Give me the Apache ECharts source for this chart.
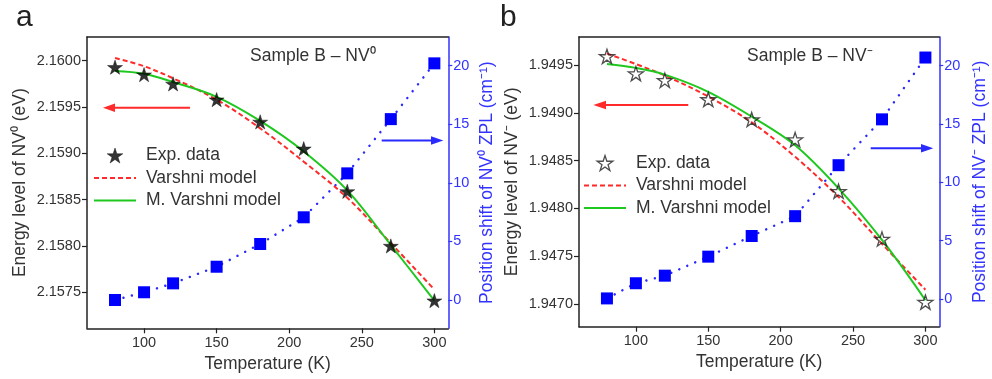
<!DOCTYPE html>
<html><head><meta charset="utf-8">
<script src="https://cdn.jsdelivr.net/npm/echarts@6/dist/echarts.min.js"></script>
<style>html,body{margin:0;padding:0;background:#fff}#c{width:992px;height:379px}</style>
</head><body><div id="c"></div>
<script>
// ---------- data ----------
const temperatures = [80, 100, 120, 150, 180, 210, 240, 270, 300];
const xTickValues = [100, 150, 200, 250, 300];
const shiftTickValues = [0, 5, 10, 15, 20];

// Panel a : Sample B – NV0
const expA = [2.15993, 2.15985, 2.15975, 2.15958, 2.15934, 2.15905, 2.15859, 2.15800, 2.15741];
const varshniA = [2.16003, 2.15994, 2.15981, 2.15958, 2.15927, 2.15891, 2.15852, 2.15803, 2.15753];
const mVarshniA = [2.15989, 2.15986, 2.15977, 2.15961, 2.15935, 2.15902, 2.15860, 2.15801, 2.15741];
const shiftA = [0, 0.66, 1.42, 2.84, 4.78, 7.06, 10.81, 15.44, 20.2];
const energyTicksA = [2.1575, 2.1580, 2.1585, 2.1590, 2.1595, 2.1600];

// Panel b : Sample B – NV-
const expB = [1.94959, 1.94941, 1.94934, 1.94914, 1.94893, 1.94872, 1.94818, 1.94768, 1.94702];
const varshniB = [1.94962, 1.94951, 1.94939, 1.94917, 1.94890, 1.94854, 1.94812, 1.94763, 1.94715];
const mVarshniB = [1.94951, 1.94947, 1.94940, 1.94922, 1.94896, 1.94866, 1.94821, 1.94767, 1.94704];
const shiftB = [0.05, 1.35, 2.0, 3.63, 5.4, 7.1, 11.47, 15.4, 20.7];
const energyTicksB = [1.9470, 1.9475, 1.9480, 1.9485, 1.9490, 1.9495];

const legendNames = ['Exp. data', 'Varshni model', 'M. Varshni model'];

// ---------- styling ----------
const FONT = "'Liberation Sans', Arial, Helvetica, sans-serif";
const TXT = '#333';
const AX = '#222';
const BLUE_AX = '#3333ff';
const BLUE = '#0000ff';
const RED = '#ff2a2a';
const GREEN = '#1ec81e';
const STAR = 'path://M0,-1L0.2245,-0.309L0.9511,-0.309L0.3633,0.118L0.5878,0.809L0,0.382L-0.5878,0.809L-0.3633,0.118L-0.9511,-0.309L-0.2245,-0.309Z';

const zip = (xs, ys) => xs.map((x, i) => [x, ys[i]]);

function bottomX(grid) {
  return {
    type: 'value', gridIndex: grid, position: 'bottom', min: 60.7, max: 309.6,
    name: 'Temperature (K)', nameLocation: 'middle', nameGap: 21,
    nameTextStyle: { fontSize: 17.5, color: TXT, fontFamily: FONT },
    axisLine: { onZero: false, lineStyle: { color: AX, width: 1.5 } },
    axisTick: { inside: false, length: 5, customValues: xTickValues, lineStyle: { color: AX, width: 1.2 } },
    axisLabel: { customValues: xTickValues, fontSize: 14.5, color: TXT, fontFamily: FONT, margin: 7 },
    splitLine: { show: false }
  };
}
function topX(grid) {
  return {
    type: 'value', gridIndex: grid, position: 'top', min: 60.7, max: 309.6,
    axisLine: { onZero: false, lineStyle: { color: AX, width: 1.5 } },
    axisTick: { show: false }, axisLabel: { show: false }, splitLine: { show: false }
  };
}
function leftY(grid, min, max, ticks, title) {
  return {
    type: 'value', gridIndex: grid, position: 'left', min: min, max: max,
    name: title, nameLocation: 'middle', nameGap: 58, nameRotate: 90,
    nameTextStyle: { fontSize: 17.5, color: TXT, fontFamily: FONT },
    axisLine: { show: true, onZero: false, lineStyle: { color: AX, width: 1.5 } },
    axisTick: { show: true, length: 5, customValues: ticks, lineStyle: { color: AX, width: 1.2 } },
    axisLabel: { customValues: ticks, formatter: v => Number(v).toFixed(4), fontSize: 14.5, color: TXT, fontFamily: FONT, margin: 6 },
    splitLine: { show: false }
  };
}
function rightY(grid, min, max, title, gap) {
  return {
    type: 'value', gridIndex: grid, position: 'right', min: min, max: max,
    name: title, nameLocation: 'middle', nameGap: gap, nameRotate: 90,
    nameTextStyle: { fontSize: 17.5, color: BLUE_AX, fontFamily: FONT },
    axisLine: { show: true, onZero: false, lineStyle: { color: BLUE_AX, width: 1.5 } },
    axisTick: { show: true, length: 4, customValues: shiftTickValues, lineStyle: { color: BLUE_AX, width: 1.2 } },
    axisLabel: { customValues: shiftTickValues, fontSize: 14.5, color: BLUE_AX, fontFamily: FONT, margin: 5 },
    splitLine: { show: false }
  };
}
const hollowStyle = { color: 'rgba(255,255,255,0)', borderColor: '#222', borderWidth: 1.3 };
const filledStyle = { color: '#000', borderColor: '#000', borderWidth: 0.5 };
function panelSeries(xi, yl, yr, exp, varshni, mvarshni, shift, hollow) {
  return [
    { type: 'line', name: 'Varshni model', xAxisIndex: xi, yAxisIndex: yl, data: zip(temperatures, varshni),
      smooth: 0.35, symbol: 'none', lineStyle: { color: RED, width: 2, type: [5, 3] }, itemStyle: { color: RED }, z: 3 },
    { type: 'line', name: 'M. Varshni model', xAxisIndex: xi, yAxisIndex: yl, data: zip(temperatures, mvarshni),
      smooth: 0.35, symbol: 'none', lineStyle: { color: GREEN, width: 2 }, itemStyle: { color: GREEN }, z: 4 },
    { type: 'line', name: 'ZPL shift ' + xi, xAxisIndex: xi, yAxisIndex: yr, data: zip(temperatures, shift),
      symbol: 'rect', symbolSize: 12, showSymbol: true,
      lineStyle: { color: '#2a2aff', width: 2.4, type: [0.1, 8.6], cap: 'round' }, itemStyle: { color: BLUE }, z: 2 },
    { type: 'scatter', name: 'Exp. data', xAxisIndex: xi, yAxisIndex: yl, data: zip(temperatures, exp),
      symbol: STAR, symbolSize: 15, symbolKeepAspect: true,
      itemStyle: hollow ? hollowStyle : filledStyle, z: 5 }
  ];
}
function legend(left, top, hollow) {
  return {
    orient: 'vertical', left: left, top: top, itemWidth: 42, itemHeight: 15, itemGap: 4.5, padding: 0,
    selectedMode: false,
    textStyle: { fontSize: 17.5, color: TXT, fontFamily: FONT, padding: [0, 0, 0, 5] },
    data: [
      { name: legendNames[0], itemStyle: hollow ? hollowStyle : filledStyle },
      { name: legendNames[1], itemStyle: { opacity: 0 }, lineStyle: { color: RED, width: 2, type: [5, 3] } },
      { name: legendNames[2], itemStyle: { opacity: 0 }, lineStyle: { color: GREEN, width: 2 } }
    ]
  };
}
function arrow(x1, x2, tip, y, color) {
  const dir = tip > x1 ? 1 : -1;
  return [
    { type: 'line', shape: { x1: x1, y1: y, x2: x2, y2: y }, style: { stroke: color, lineWidth: 2 } },
    { type: 'polygon', shape: { points: [[tip, y], [x2 - dir * 1, y - 4.2], [x2 - dir * 1, y + 4.2]] }, style: { fill: color } }
  ];
}

const option = {
  animation: false,
  backgroundColor: '#fff',
  textStyle: { fontFamily: FONT },
  title: [
    { text: 'a', left: 16, top: 3, padding: 0, textStyle: { fontSize: 30, fontWeight: 'normal', color: '#222', fontFamily: FONT } },
    { text: 'b', left: 500, top: 3, padding: 0, textStyle: { fontSize: 30, fontWeight: 'normal', color: '#222', fontFamily: FONT } },
    { text: 'Sample B – NV⁰', left: 250, top: 47, padding: 0, textStyle: { fontSize: 17.5, fontWeight: 'normal', color: TXT, fontFamily: FONT } },
    { text: 'Sample B – NV⁻', left: 747, top: 47, padding: 0, textStyle: { fontSize: 17.5, fontWeight: 'normal', color: TXT, fontFamily: FONT } }
  ],
  grid: [
    { left: 87, top: 37, width: 361.3, height: 291.3 },
    { left: 579, top: 37, width: 360.3, height: 289.7 }
  ],
  legend: [legend(93, 146.5, false), legend(583, 154, true)],
  xAxis: [bottomX(0), topX(0), bottomX(1), topX(1)],
  yAxis: [
    leftY(0, 2.157111, 2.160256, energyTicksA, 'Energy level of NV⁰ (eV)'),
    rightY(0, -2.416, 22.45, 'Position shift of NV⁰ ZPL (cm⁻¹)', 30),
    leftY(1, 1.946763, 1.949793, energyTicksB, 'Energy level of NV⁻ (eV)'),
    rightY(1, -2.375, 22.46, 'Position shift of NV⁻ ZPL (cm⁻¹)', 31.5)
  ],
  series: [
    ...panelSeries(0, 0, 1, expA, varshniA, mVarshniA, shiftA, false),
    ...panelSeries(2, 2, 3, expB, varshniB, mVarshniB, shiftB, true)
  ],
  graphic: [
    ...arrow(190, 114, 103, 107.7, RED),
    ...arrow(381.7, 432, 443.3, 140.5, '#2a2aff'),
    ...arrow(688.3, 605, 593.3, 105, RED),
    ...arrow(870.7, 922, 933.3, 148.3, '#2a2aff')
  ]
};

const chart = echarts.init(document.getElementById('c'), null, { renderer: 'canvas' });
chart.setOption(option);
</script>
</body></html>
